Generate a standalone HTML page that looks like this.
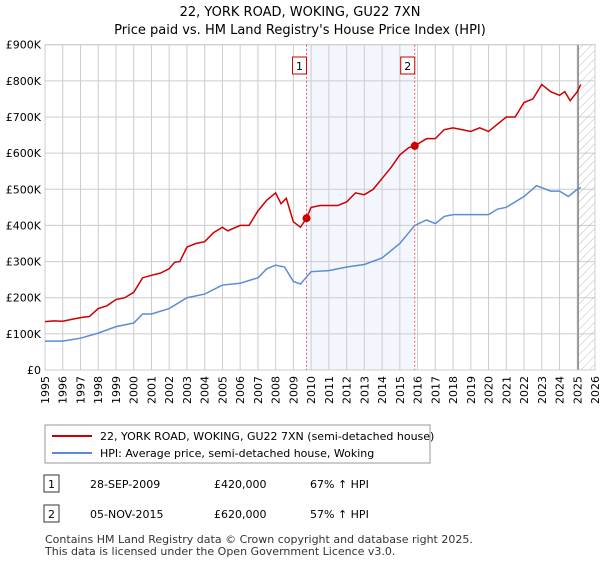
<!DOCTYPE html>
<html><head><meta charset="utf-8"><style>
body{margin:0;background:#fff;font-family:"Liberation Sans","DejaVu Sans",sans-serif;}
svg text{font-family:"DejaVu Sans","Liberation Sans",sans-serif;}
</style></head><body>
<svg id="c" width="600" height="560" xmlns="http://www.w3.org/2000/svg">
<text x="300" y="16" text-anchor="middle" font-size="13">22, YORK ROAD, WOKING, GU22 7XN</text>
<text x="300" y="34" text-anchor="middle" font-size="13">Price paid vs. HM Land Registry's House Price Index (HPI)</text>
<g id="plot"></g>
<rect x="45" y="425" width="385" height="38" fill="#fff" stroke="#999"/>
<line x1="52" y1="436" x2="92" y2="436" stroke="#cc0000" stroke-width="2"/>
<text x="100" y="440" font-size="11">22, YORK ROAD, WOKING, GU22 7XN (semi-detached house)</text>
<line x1="52" y1="453" x2="92" y2="453" stroke="#5b8dd6" stroke-width="2"/>
<text x="100" y="457" font-size="11">HPI: Average price, semi-detached house, Woking</text>
<rect x="44" y="475" width="15" height="17" fill="#fff" stroke="#333"/>
<text x="51.5" y="488" font-size="11" text-anchor="middle">1</text>
<text x="90" y="488" font-size="11">28-SEP-2009</text>
<text x="214" y="488" font-size="11">£420,000</text>
<text x="310" y="488" font-size="11">67% ↑ HPI</text>
<rect x="44" y="505" width="15" height="17" fill="#fff" stroke="#333"/>
<text x="51.5" y="518" font-size="11" text-anchor="middle">2</text>
<text x="90" y="518" font-size="11">05-NOV-2015</text>
<text x="214" y="518" font-size="11">£620,000</text>
<text x="310" y="518" font-size="11">57% ↑ HPI</text>
<text x="45" y="543" font-size="11" fill="#333">Contains HM Land Registry data © Crown copyright and database right 2025.</text>
<text x="45" y="555" font-size="11" fill="#333">This data is licensed under the Open Government Licence v3.0.</text>
</svg>
<script>
const yTicks=[0,100000,200000,300000,400000,500000,600000,700000,800000,900000];
const yTickLabels=["£0","£100K","£200K","£300K","£400K","£500K","£600K","£700K","£800K","£900K"];
const years=[1995,1996,1997,1998,1999,2000,2001,2002,2003,2004,2005,2006,2007,2008,2009,2010,2011,2012,2013,2014,2015,2016,2017,2018,2019,2020,2021,2022,2023,2024,2025,2026];
const priceT=[1995,1995.5,1996,1996.5,1997,1997.5,1998,1998.5,1999,1999.5,2000,2000.5,2001,2001.5,2002,2002.3,2002.6,2003,2003.5,2004,2004.5,2005,2005.3,2006,2006.5,2007,2007.5,2008,2008.3,2008.6,2009,2009.4,2009.74,2010,2010.5,2011,2011.5,2012,2012.5,2013,2013.5,2014,2014.5,2015,2015.5,2015.84,2016.5,2017,2017.5,2018,2018.5,2019,2019.5,2020,2020.5,2021,2021.5,2022,2022.5,2023,2023.5,2024,2024.3,2024.6,2025,2025.2];
const priceV=[134000,136000,135000,140000,145000,148000,170000,178000,195000,200000,215000,255000,262000,268000,280000,298000,300000,340000,350000,355000,380000,395000,385000,400000,400000,440000,470000,490000,460000,475000,410000,395000,420000,450000,455000,455000,455000,465000,490000,485000,500000,530000,560000,595000,615000,620000,640000,640000,665000,670000,665000,660000,670000,660000,680000,700000,700000,740000,750000,790000,770000,760000,770000,745000,770000,790000];
const hpiT=[1995,1996,1997,1998,1999,2000,2000.5,2001,2002,2003,2004,2005,2006,2007,2007.5,2008,2008.5,2009,2009.4,2010,2011,2012,2013,2014,2015,2015.84,2016.5,2017,2017.5,2018,2019,2020,2020.5,2021,2022,2022.7,2023.5,2024,2024.5,2025,2025.2];
const hpiV=[80000,80000,88000,102000,120000,130000,155000,155000,170000,200000,210000,235000,240000,255000,280000,290000,285000,245000,238000,272000,275000,285000,292000,310000,350000,400000,415000,405000,425000,430000,430000,430000,445000,450000,480000,510000,495000,495000,480000,500000,505000];
const sales=[{t:2009.74,v:420000,n:"1"},{t:2015.84,v:620000,n:"2"}];
const L=45,R=595,T=44.7,B=370,x0=1995,x1=2026,yMax=900000;
const X=t=>L+(t-x0)/(x1-x0)*(R-L), Y=v=>B-v/yMax*(B-T);
const g=document.getElementById('plot');const NS="http://www.w3.org/2000/svg";
function mk(tag,attrs,name){const e=document.createElementNS(NS,tag);for(const k in attrs)e.setAttribute(k,attrs[k]);


g.appendChild(e);return e;}
mk('rect',{x:X(sales[0].t),y:T,width:X(sales[1].t)-X(sales[0].t),height:B-T,fill:'#eef2fc',opacity:0.7},'sale-period-shading');
years.forEach(y=>{mk('line',{x1:X(y),x2:X(y),y1:T,y2:B,stroke:'#ccc'},'x-gridline');
const t=mk('text',{x:0,y:0,'font-size':11,'text-anchor':'end',transform:`translate(${X(y)+4},${B+6}) rotate(-90)`},'x-tick-label');t.textContent=y;});
yTicks.forEach((v,i)=>{mk('line',{x1:L,x2:R,y1:Y(v),y2:Y(v),stroke:'#ccc'},'y-gridline');
const t=mk('text',{x:L-4,y:Y(v)+4,'font-size':11,'text-anchor':'end'},'y-tick-label');t.textContent=yTickLabels[i];});
// hatch future
const defs=mk('defs',{},'defs');defs.innerHTML='<pattern id="h" width="6" height="6" patternUnits="userSpaceOnUse" patternTransform="rotate(45)"><line x1="0" y1="0" x2="0" y2="6" stroke="#bbb" stroke-width="1"/></pattern>';
mk('rect',{x:X(2025.05),y:T,width:R-X(2025.05),height:B-T,fill:'url(#h)'},'forecast-hatch');
mk('line',{x1:X(2025.05),x2:X(2025.05),y1:T,y2:B,stroke:'#888','stroke-width':1.5},'data-end-line');
mk('rect',{x:L,y:T,width:R-L,height:B-T,fill:'none',stroke:'#ccc'},'plot-border');
mk('polyline',{points:hpiT.map((t,i)=>X(t)+','+Y(hpiV[i])).join(' '),fill:'none',stroke:'#5b8dd6','stroke-width':1.5},'hpi-line');
mk('polyline',{points:priceT.map((t,i)=>X(t)+','+Y(priceV[i])).join(' '),fill:'none',stroke:'#cc0000','stroke-width':1.5},'price-line');
sales.forEach(s=>{mk('line',{x1:X(s.t),x2:X(s.t),y1:T,y2:B,stroke:'#e06060','stroke-dasharray':'2,2'},'sale-marker-line');
mk('circle',{cx:X(s.t),cy:Y(s.v),r:4,fill:'#cc0000'},'sale-point');
mk('rect',{x:X(s.t)-14,y:57,width:14,height:17,fill:'#fff',stroke:'#cc0000'},'sale-label-box');
const t=mk('text',{x:X(s.t)-7,y:70,'font-size':11,'text-anchor':'middle'},'sale-label');t.textContent=s.n;});
</script>
</body></html>
